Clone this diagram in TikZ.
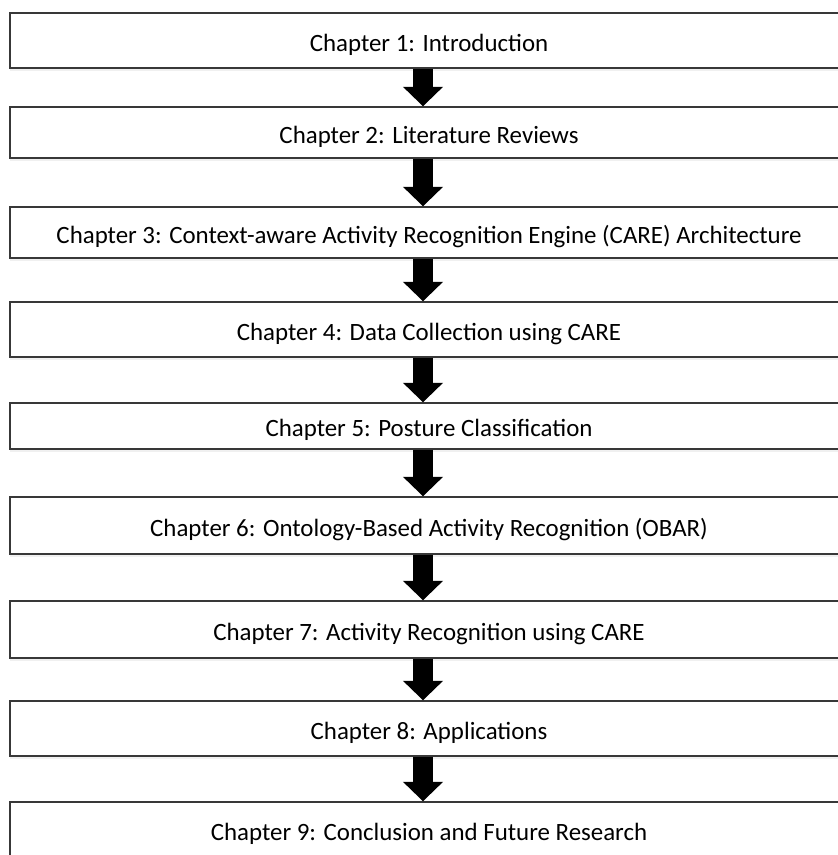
\documentclass[tikz,border=0pt]{standalone}
\usepackage{fontspec}
\setmainfont{Carlito}
\usetikzlibrary{arrows.meta,shadows}

\tikzset{
  chapbox/.style={draw=black!78, line width=1.4pt, fill=white,
    minimum width=838pt, inner sep=0pt,
    text height=21.8pt, text depth=0pt,
    font=\fontsize{24.9pt}{28pt}\selectfont,
    drop shadow={shadow xshift=0pt, shadow yshift=-2.5pt, opacity=0.12}},
  flowarrow/.style={draw=black, line width=20pt,
    -{Triangle[length=19.5pt, width=39pt]}}
}

\begin{document}
\begin{tikzpicture}[x=1pt, y=-1pt]
\useasboundingbox (0,0) rectangle (838,855);

\node[chapbox, minimum height=55pt] (c1) at (429,40.5)  {Chapter 1: Introduction};
\node[chapbox, minimum height=51pt] (c2) at (429,132.5) {Chapter 2: Literature Reviews};
\node[chapbox, minimum height=51pt] (c3) at (429,232.5) {Chapter 3: Context-aware Activity Recognition Engine (CARE) Architecture};
\node[chapbox, minimum height=55pt] (c4) at (429,329.5) {Chapter 4: Data Collection using CARE};
\node[chapbox, minimum height=46pt] (c5) at (429,426)   {Chapter 5: Posture Classification};
\node[chapbox, minimum height=57pt] (c6) at (429,525.5) {Chapter 6: Ontology-Based Activity Recognition (OBAR)};
\node[chapbox, minimum height=57pt] (c7) at (429,629.5) {Chapter 7: Activity Recognition using CARE};
\node[chapbox, minimum height=55pt] (c8) at (429,728.5) {Chapter 8: Applications};
\node[chapbox, minimum height=55pt] (c9) at (429,829.5) {Chapter 9: Conclusion and Future Research};

% block arrows between consecutive chapters
\foreach \a/\b in {c1/c2, c2/c3, c3/c4, c4/c5, c5/c6, c6/c7, c7/c8, c8/c9}
  \draw[flowarrow] ([xshift=-6pt]\a.south) -- ([xshift=-6pt]\b.north);
\end{tikzpicture}
\end{document}
